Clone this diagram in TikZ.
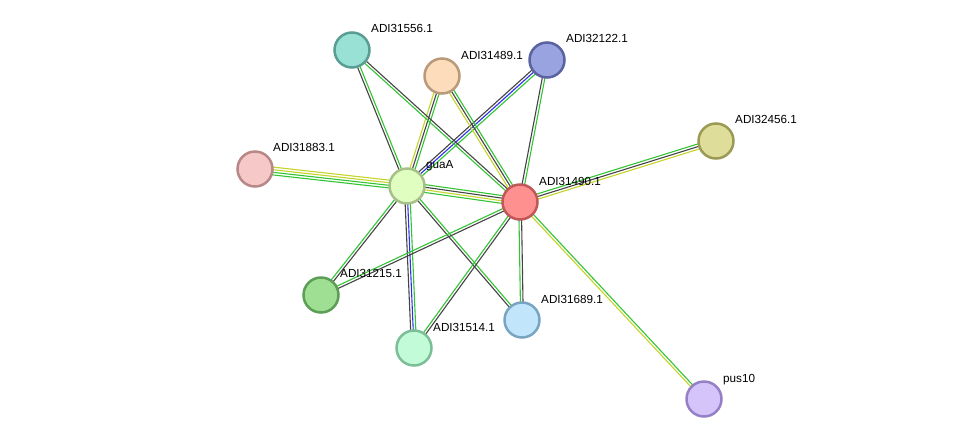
\documentclass[tikz,border=0pt]{standalone}
\usepackage{fontspec}
\setmainfont{Liberation Sans}
\usetikzlibrary{calc,backgrounds}
\definecolor{sgreen}{HTML}{33C433}
\definecolor{sdark}{HTML}{444444}
\definecolor{sblue}{HTML}{3030F0}
\definecolor{syellow}{HTML}{C4D42A}
\tikzset{
  prot/.style={circle, minimum size=35pt, inner sep=0pt, line width=2.5pt},
  lbl/.style={anchor=base west, inner sep=0pt, font=\fontsize{11.7}{13}\selectfont},
  eline/.style={line width=1.1pt}
}
\newcommand\sedge[3]{%
  \foreach \c [count=\i] in {#3} {\xdef\nn{\i}}%
  \foreach \c [count=\i] in {#3} {%
    \pgfmathsetmacro\off{(\i-(\nn+1)/2)*2.6}%
    \draw[eline, color=\c] ($(#1.center)!\off pt!90:(#2.center)$) -- ($(#2.center)!\off pt!-90:(#1.center)$);
  }%
}
\begin{document}
\begin{tikzpicture}[x=1pt,y=-1pt]
\useasboundingbox (0,0) rectangle (976,445);
\node[prot, fill={rgb,255:red,153;green,224;blue,213}, draw={rgb,255:red,90;green,158;blue,147}] (n556) at (352,50) {};
\node[prot, fill={rgb,255:red,253;green,220;blue,188}, draw={rgb,255:red,184;green,154;blue,122}] (n489) at (442,76) {};
\node[prot, fill={rgb,255:red,153;green,163;blue,224}, draw={rgb,255:red,90;green,99;blue,160}] (n122) at (547,60) {};
\node[prot, fill={rgb,255:red,222;green,222;blue,154}, draw={rgb,255:red,154;green,154;blue,85}] (n456) at (716,141) {};
\node[prot, fill={rgb,255:red,247;green,200;blue,200}, draw={rgb,255:red,184;green,136;blue,136}] (n883) at (255,169) {};
\node[prot, fill={rgb,255:red,224;green,254;blue,192}, draw={rgb,255:red,166;green,192;blue,138}] (gua) at (407,186) {};
\node[prot, fill={rgb,255:red,255;green,144;blue,144}, draw={rgb,255:red,192;green,88;blue,88}] (n490) at (520,202) {};
\node[prot, fill={rgb,255:red,158;green,223;blue,148}, draw={rgb,255:red,92;green,158;blue,85}] (n215) at (321,295) {};
\node[prot, fill={rgb,255:red,193;green,229;blue,251}, draw={rgb,255:red,122;green,165;blue,192}] (n689) at (522,320) {};
\node[prot, fill={rgb,255:red,193;green,251;blue,215}, draw={rgb,255:red,124;green,191;blue,151}] (n514) at (414,348) {};
\node[prot, fill={rgb,255:red,212;green,196;blue,250}, draw={rgb,255:red,150;green,128;blue,196}] (pus) at (704,399) {};
\begin{pgfonlayer}{background}
\sedge{gua}{n556}{sgreen,sdark}
\sedge{gua}{n489}{sgreen,sdark,syellow}
\sedge{gua}{n122}{sgreen,sblue,sdark}
\sedge{gua}{n883}{syellow,syellow,sgreen,sgreen}
\sedge{gua}{n490}{sgreen,syellow,sdark,sgreen}
\sedge{gua}{n215}{sgreen,sdark}
\sedge{gua}{n514}{sdark,sblue,sgreen}
\sedge{gua}{n689}{sdark,sgreen}
\sedge{n490}{n556}{sdark,sgreen}
\sedge{n490}{n489}{sgreen,sdark,syellow}
\sedge{n490}{n122}{sgreen,sdark}
\sedge{n490}{n456}{syellow,sdark,sgreen}
\sedge{n490}{n215}{sgreen,sdark}
\sedge{n490}{n514}{sgreen,sdark}
\sedge{n490}{n689}{sgreen,sdark}
\sedge{n490}{pus}{syellow,sgreen}
\end{pgfonlayer}
\node[lbl] (l556) at (371,32) {ADI31556.1};
\node[lbl] (l489) at (461,59) {ADI31489.1};
\node[lbl] (l122) at (566,42) {ADI32122.1};
\node[lbl] (l456) at (735,123) {ADI32456.1};
\node[lbl] (l883) at (273,151) {ADI31883.1};
\node[lbl] (lgua) at (426,168) {guaA};
\node[lbl] (l490) at (539,185) {ADI31490.1};
\node[lbl] (l215) at (340,277) {ADI31215.1};
\node[lbl] (l689) at (541,303) {ADI31689.1};
\node[lbl] (l514) at (433,331) {ADI31514.1};
\node[lbl] (lpus) at (723,382) {pus10};
\end{tikzpicture}
\end{document}
